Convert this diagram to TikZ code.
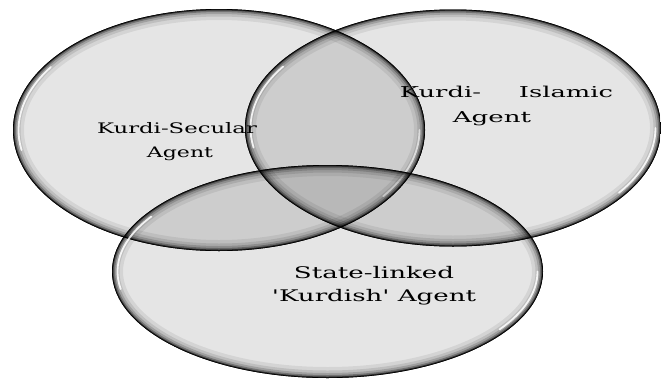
\documentclass[tikz,border=0pt]{standalone}
\usepackage{fontspec}
\setmainfont{DejaVu Serif}
\newcommand\vennellipse[4]{%
  \fill[black, fill opacity=0.1] (#1,#2) ellipse [x radius=#3, y radius=#4];
  \begin{scope}
    \clip (#1,#2) ellipse [x radius=#3, y radius=#4];
    \draw[black, opacity=0.07, line width=22pt] (#1,#2) ellipse [x radius=#3, y radius=#4];
    \draw[black, opacity=0.10, line width=15pt] (#1,#2) ellipse [x radius=#3, y radius=#4];
    \draw[black, opacity=0.16, line width=10pt] (#1,#2) ellipse [x radius=#3, y radius=#4];
    \draw[black, opacity=0.28, line width=6pt] (#1,#2) ellipse [x radius=#3, y radius=#4];
    \draw[black, opacity=0.55, line width=3pt] (#1,#2) ellipse [x radius=#3, y radius=#4];
    \draw[black, opacity=1, line width=1.3pt] (#1,#2) ellipse [x radius=#3, y radius=#4];
    \draw[white, opacity=0.85, line width=1.8pt, line cap=round]
      ({#1+(#3-5.5)*cos(170)},{#2+(#4-5.5)*sin(170)}) arc [start angle=170, end angle=213, x radius=#3-5.5, y radius=#4-5.5];
    \draw[white, opacity=0.85, line width=1.8pt, line cap=round]
      ({#1+(#3-5.5)*cos(0)},{#2+(#4-5.5)*sin(0)}) arc [start angle=0, end angle=35, x radius=#3-5.5, y radius=#4-5.5];
  \end{scope}}
\begin{document}
\begin{tikzpicture}[x=1pt,y=-1pt,
  lbl/.style={inner sep=0pt, anchor=base}]
\useasboundingbox (0,0) rectangle (661,381);
\fill[white] (0,0) rectangle (661,381);
\vennellipse{219}{130}{206}{121}
\vennellipse{453}{128}{208}{118.5}
\vennellipse{327.5}{271.5}{215.5}{106.5}
\node[lbl] (secular) at (177,133) {\fontsize{14.5}{17}\selectfont\scalebox{1.57}[1]{Kurdi-Secular}};
\node[lbl] (secularb) at (180,157) {\fontsize{14.5}{17}\selectfont\scalebox{1.52}[1]{Agent}};
\node[lbl] (islamic) at (506.5,97) {\fontsize{15}{18}\selectfont\scalebox{1.72}[1]{\makebox[124pt]{Kurdi-\hfill Islamic}}};
\node[lbl] (islamicb) at (492,122) {\fontsize{15}{18}\selectfont\scalebox{1.74}[1]{Agent}};
\node[lbl] (state) at (374,278) {\fontsize{16}{19}\selectfont\scalebox{1.63}[1]{State-linked}};
\node[lbl] (stateb) at (374,301) {\fontsize{16}{19}\selectfont\scalebox{1.63}[1]{\textquotesingle Kurdish\textquotesingle{} Agent}};
\end{tikzpicture}
\end{document}
